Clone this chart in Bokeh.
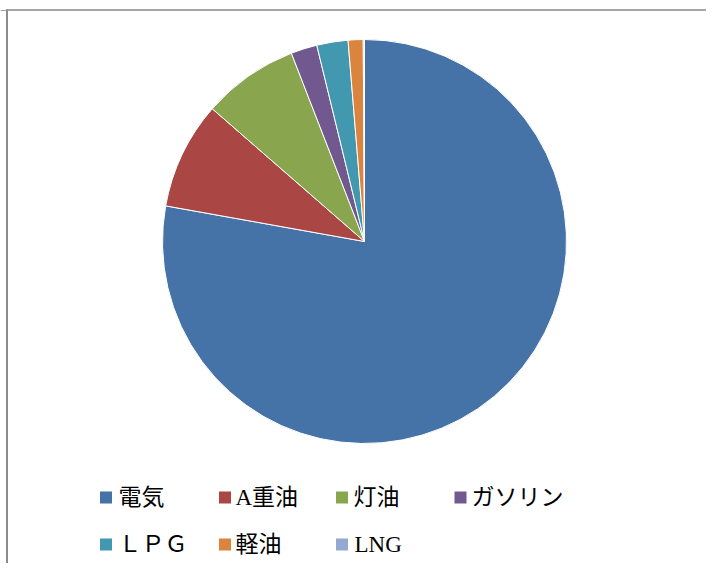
import numpy as np
from bokeh.plotting import figure
from bokeh.models import Range1d, ColumnDataSource
from bokeh.core.properties import value
from bokeh.embed import file_html
from bokeh.resources import INLINE

categories = ["電気", "A重油", "灯油", "ガソリン", "ＬＰＧ", "軽油", "LNG"]
values = [77.9, 8.6, 7.7, 2.1, 2.5, 1.2, 0.1]
colors = ["#4572A7", "#AA4643", "#89A54E", "#71588F", "#4198AF", "#DB843D", "#93A9CF"]

W, H = 706, 563

p = figure(width=W, height=H, output_backend="svg", toolbar_location=None,
           x_range=Range1d(0, W), y_range=Range1d(0, H),
           min_border=0, outline_line_color=None)
p.axis.visible = False
p.grid.visible = False
p.background_fill_color = "white"
p.border_fill_color = "white"

def py(y):
    return H - y

# frame lines
p.segment(x0=[6], y0=[py(9.5)], x1=[W], y1=[py(9.5)], line_color="#a6a6a6", line_width=2)
p.segment(x0=[0], y0=[py(10)], x1=[6], y1=[py(10)], line_color="#a0a0a0", line_width=1)
p.segment(x0=[6.5], y0=[py(9)], x1=[6.5], y1=[py(H)], line_color="#8c8c8c", line_width=2)

# pie
v = np.array(values, dtype=float)
frac = v / v.sum()
cum = np.concatenate([[0], np.cumsum(frac)])
starts = np.pi / 2 - 2 * np.pi * cum[1:]
ends = np.pi / 2 - 2 * np.pi * cum[:-1]
src = ColumnDataSource(dict(start=starts, end=ends, color=colors, cat=categories))
p.wedge(x=364, y=py(241), radius=202, start_angle="start", end_angle="end",
        fill_color="color", line_color="white", line_width=1, source=src)

# legend
sq_x = [105.5, 224.5, 341.5, 460.0, 105.5, 224.5, 341.5]
sq_y = [497, 497, 497, 497, 544, 544, 544]
tx_x = [118, 235, 353, 471, 118, 235, 354]
lsrc = ColumnDataSource(dict(sx=sq_x, sy=[py(y) for y in sq_y], tx=tx_x,
                             color=colors, cat=categories))
p.rect(x="sx", y="sy", width=12, height=12, fill_color="color", line_color=None, source=lsrc)
p.text(x="tx", y="sy", text="cat", text_font=value("Liberation Serif, Noto Sans CJK JP"),
       text_font_size="23px", text_baseline="middle", text_align="left",
       text_color="#000000", source=lsrc)

open("out.html", "w").write(file_html(p, INLINE))
